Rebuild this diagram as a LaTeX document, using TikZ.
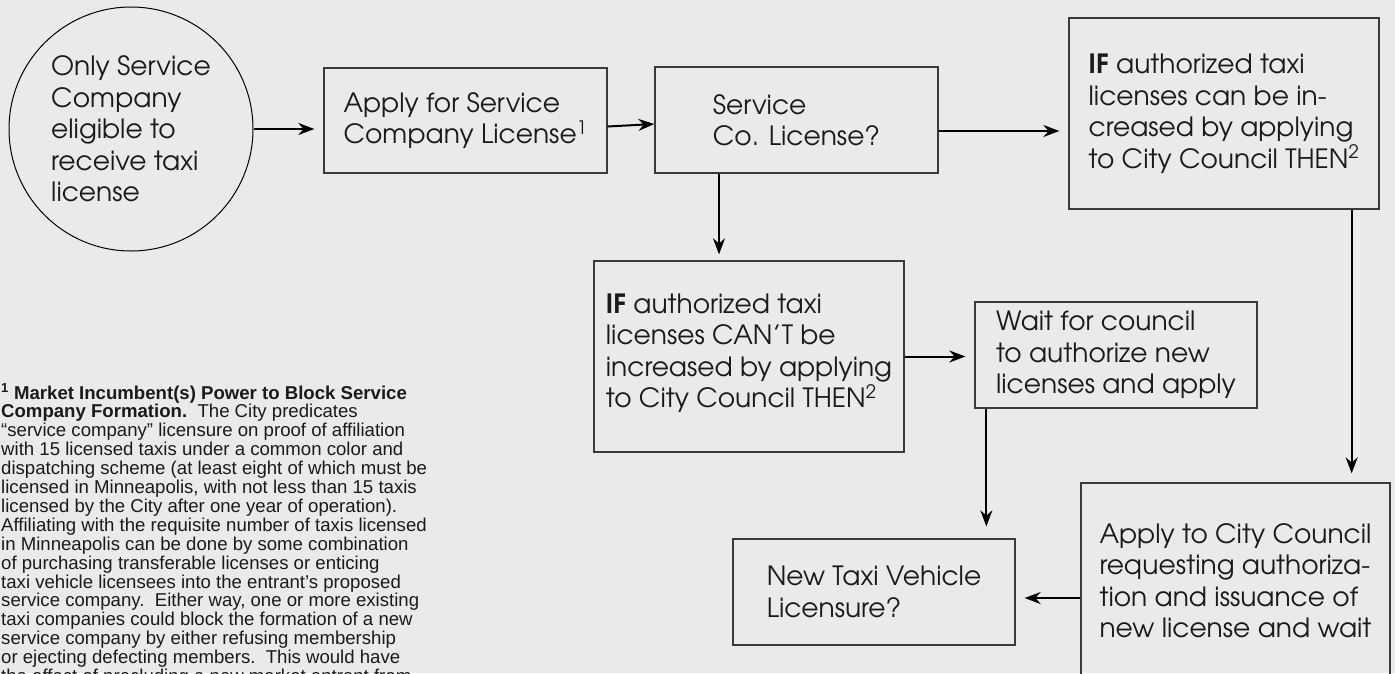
\documentclass[tikz,border=0pt]{standalone}
\usepackage{fontspec}
\setmainfont{TeX Gyre Adventor}
\newfontfamily\notafont{Liberation Sans}
\usepackage{xcolor}
\usetikzlibrary{arrows.meta}
\definecolor{fondo}{HTML}{EAEAEA}
\definecolor{borde}{HTML}{3A3A3A}
\definecolor{tinta}{HTML}{1A1A1A}

\begin{document}
\begin{tikzpicture}[x=1pt,y=-1pt,text=tinta,
  caja/.style={draw=borde,line width=1.3pt,align=left,inner sep=0pt,font=\fontsize{26.5}{31.5}\selectfont},
  flecha/.style={-{Stealth[length=16pt,width=12pt]},line width=2pt,shorten >=9pt}]
\fill[fondo](0,0)rectangle(1395,673);
\useasboundingbox(0,0)rectangle(1395,673);

\node[draw,circle,line width=1pt,minimum size=244pt,align=left,inner sep=0pt,font=\fontsize{26.5}{31.5}\selectfont](circ)at(131,129){Only Service\\Company\\eligible to\\receive taxi\\license};
\node[caja,minimum width=283pt,minimum height=105pt](apply)at(465.5,120.5){Apply for Service\\Company License\textsuperscript{1}};
\node[caja,minimum width=283pt,minimum height=106pt](svc)at(796.5,120){Service\\Co. License?};
\node[caja,minimum width=310pt,minimum height=191pt](ifyes)at(1224,113.5){\textbf{IF} authorized taxi\\licenses can be in-\\creased by applying\\to City Council THEN\textsuperscript{2}};
\node[caja,minimum width=310pt,minimum height=191pt,text depth=12pt](ifno)at(749,356.5){\textbf{IF} authorized taxi\\licenses CAN’T be\\increased by applying\\to City Council THEN\textsuperscript{2}};
\node[caja,minimum width=282pt,minimum height=106pt](wait)at(1116,355){Wait for council\\to authorize new\\licenses and apply};
\node[caja,minimum width=282pt,minimum height=106pt](newtaxi)at(874,592){New Taxi Vehicle\\Licensure?};
\node[caja,minimum width=309pt,minimum height=195pt](council)at(1235.5,580.5){Apply to City Council\\requesting authoriza-\\tion and issuance of\\new license and wait};

% footnote, base is the last line
\node[anchor=base west,align=left,inner sep=0pt,font=\notafont\fontsize{18.6}{18.9}\selectfont](nota)at(1,682.5){%
\textbf{\textsuperscript{1} Market Incumbent(s) Power to Block Service}\\
\textbf{Company Formation.}\ \ The City predicates\\
“service company” licensure on proof of affiliation\\
with 15 licensed taxis under a common color and\\
dispatching scheme (at least eight of which must be\\
licensed in Minneapolis, with not less than 15 taxis\\
licensed by the City after one year of operation).\\
Affiliating with the requisite number of taxis licensed\\
in Minneapolis can be done by some combination\\
of purchasing transferable licenses or enticing\\
taxi vehicle licensees into the entrant’s proposed\\
service company.\ \ Either way, one or more existing\\
taxi companies could block the formation of a new\\
service company by either refusing membership\\
or ejecting defecting members.\ \ This would have\\
the effect of precluding a new market entrant from};

\coordinate(s1)at([yshift=-6]apply.east);
\coordinate(s2)at([yshift=-4]svc.west);
\coordinate(s3)at([xshift=-77.5]svc.south);
\coordinate(s4)at([yshift=-11]svc.east);
\coordinate(s5)at([xshift=-28]ifyes.south east);
\coordinate(s6)at([xshift=12]wait.south west);
\coordinate(s7)at([yshift=-6]newtaxi.east);

\draw[flecha](circ.east)--(circ.east-|apply.west);
\draw[flecha,shorten >=0pt](s1)--(s2);
\draw[flecha,shorten >=6pt](s3)--(s3|-ifno.north);
\draw[flecha](s4)--(s4-|ifyes.west);
\draw[flecha](s5)--(s5|-council.north);
\draw[flecha](ifno.east)--(ifno.east-|wait.west);
\draw[flecha,shorten >=12pt](s6)--(s6|-newtaxi.north);
\draw[flecha](s7-|council.west)--(s7);
\end{tikzpicture}
\end{document}
